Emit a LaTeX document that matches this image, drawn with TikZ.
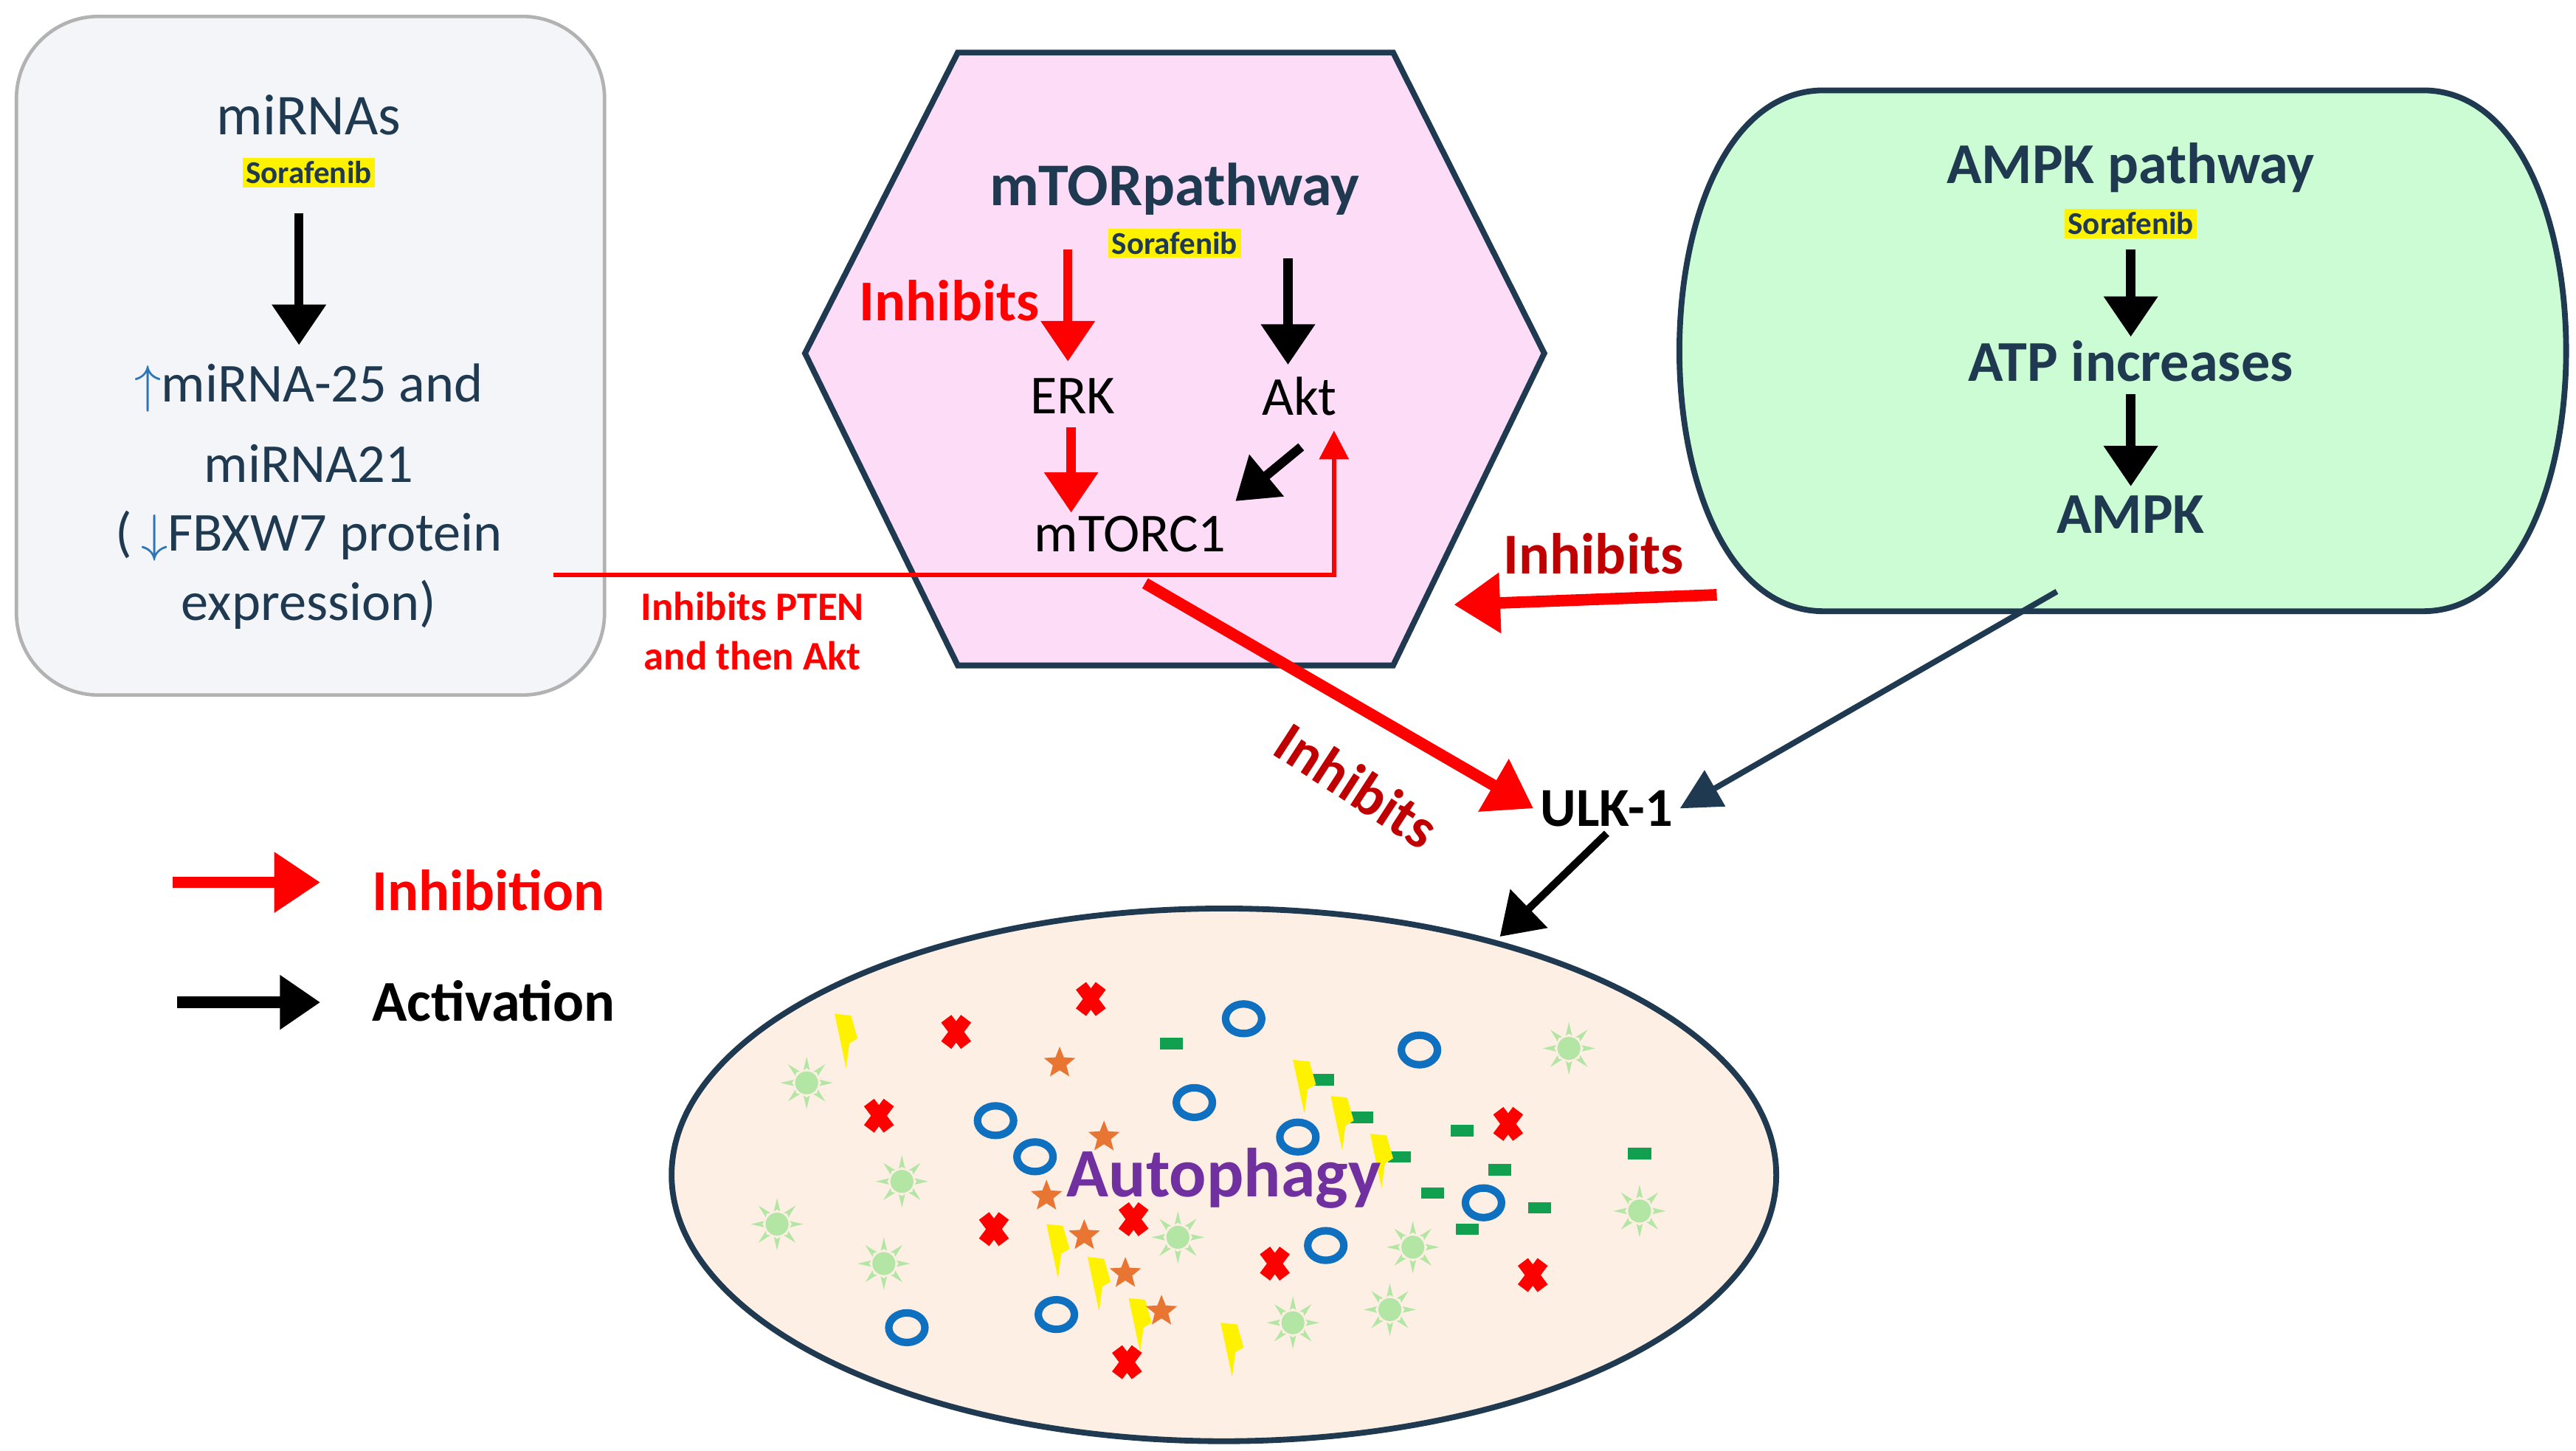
\documentclass[tikz,border=0pt]{standalone}
\usepackage{fontspec}
\setmainfont{Carlito}
\usetikzlibrary{arrows.meta,shapes.geometric,calc}
\definecolor{navy}{HTML}{1F3A50}
\definecolor{dred}{HTML}{C00000}
\definecolor{hexfill}{HTML}{FDDCF8}
\definecolor{grfill}{HTML}{CCFCD4}
\definecolor{boxfill}{HTML}{F3F5F8}
\definecolor{ellfill}{HTML}{FDEFE3}
\definecolor{sun}{HTML}{B3E6A4}
\definecolor{ostar}{HTML}{E87532}
\definecolor{oblue}{HTML}{1070C0}
\definecolor{dgreen}{HTML}{10A050}
\definecolor{tealc}{HTML}{2E75B6}
\definecolor{purp}{HTML}{7030A0}
\tikzset{
 txt/.style={font=\fontsize{9.5}{10}\selectfont, text=navy, inner sep=1pt},
 big/.style={font=\fontsize{10}{11}\selectfont\bfseries, text=navy, inner sep=1pt},
 sora/.style={font=\fontsize{5.5}{6}\selectfont\bfseries, fill=yellow, inner sep=0.6pt, text=navy},
 blk/.style={-{Triangle[length=7pt,width=9pt]}, line width=1.6pt, black},
 redarr/.style={-{Triangle[length=7pt,width=9pt]}, line width=1.6pt, draw=red},
 redthick/.style={-{Triangle[length=8pt,width=10pt]}, line width=2pt, draw=red},
 inh/.style={font=\fontsize{10}{11}\selectfont\bfseries, text=dred, inner sep=1pt},
}
\begin{document}
\begin{tikzpicture}[x=0.01cm,y=-0.01cm]
\useasboundingbox (0,0) rectangle (1568,883);
% left box
\draw[draw=gray!60, fill=boxfill, line width=0.6pt, rounded corners=0.5cm] (10,10) rectangle (368,423);
\node[txt, font=\fontsize{10}{11}\selectfont] (mir) at (188,70) {miRNAs};
\node[sora] (s1) at (188,105) {Sorafenib};
\node[txt] (m25) at (188,236) {\textcolor{tealc}{$\uparrow$}miRNA-25 and};
\node[txt] (m21) at (188,282) {miRNA21};
\node[txt] (fbx) at (188,326) {(\,\textcolor{tealc}{$\downarrow$}FBXW7 protein};
\node[txt] (exp) at (188,368) {expression)};
\coordinate (a1) at (182,130); \coordinate (a2) at (182,210);
\draw[blk] (a1) -- (a2);
% hexagon
\draw[draw=navy, fill=hexfill, line width=1pt] (583,32) -- (848,32) -- (940,215) -- (848,405) -- (583,405) -- (490,215) -- cycle;
\node[big, font=\fontsize{10.5}{11}\selectfont\bfseries] (mtor) at (715,115) {mTORpathway};
\node[sora] (s2) at (715,148) {Sorafenib};
\node[inh, text=red] (inh1) at (578,183) {Inhibits};
\node[txt, text=black] (erk) at (653,241) {ERK};
\node[txt, text=black] (akt) at (791,241) {Akt};
\node[txt, text=black] (mtorc) at (688,325) {mTORC1};
\coordinate (r1) at (650,152); \coordinate (r2) at (650,220);
\draw[redarr] (r1) -- (r2);
\coordinate (b1) at (784,157); \coordinate (b2) at (784,222);
\draw[blk] (b1) -- (b2);
\coordinate (r3) at (652,260); \coordinate (r4) at (652,312);
\draw[redarr] (r3) -- (r4);
\coordinate (b3) at (792,272); \coordinate (b4) at (752,305);
\draw[blk] (b3) -- (b4);
% PTEN line
\coordinate (p1) at (337,350); \coordinate (p2) at (812,350); \coordinate (p3) at (812,262);
\draw[draw=red, line width=0.8pt, -{Triangle[length=5pt,width=5pt]}] (p1) -- (p2) -- (p3);
\node[font=\fontsize{7}{8.5}\selectfont\bfseries, text=red, align=center] (pten) at (458,384) {Inhibits PTEN\\and then Akt};
% green shape
\draw[draw=navy, fill=grfill, line width=1pt] (1110,55) -- (1475,55) .. controls (1591,55) and (1591,372) .. (1475,372) -- (1110,372) .. controls (993,372) and (993,55) .. (1110,55) -- cycle;
\node[big] (ampkp) at (1297,102) {AMPK pathway};
\node[sora] (s3) at (1297,136) {Sorafenib};
\node[big] (atp) at (1297,220) {ATP increases};
\node[big] (ampk) at (1297,313) {AMPK};
\coordinate (g1) at (1297,152); \coordinate (g2) at (1297,205);
\draw[blk] (g1) -- (g2);
\coordinate (g3) at (1297,240); \coordinate (g4) at (1297,296);
\draw[blk] (g3) -- (g4);
% AMPK inhibits mTOR
\coordinate (i1) at (1045,362); \coordinate (i2) at (885,368);
\draw[redthick] (i1) -- (i2);
\node[inh] (inh2) at (970,337) {Inhibits};
% mTORC1 inhibits ULK
\node[font=\fontsize{9.5}{10}\selectfont\bfseries, inner sep=1pt] (ulk) at (978,492) {ULK-1};
\coordinate (i3) at (697,355);
\draw[redthick] (i3) -- (ulk.west);
\node[inh, rotate=-33] (inh3) at (826,478) {Inhibits};
\coordinate (n1) at (1252,360);
\draw[-{Triangle[length=7pt,width=7pt]}, line width=1pt, draw=navy] (n1) -- (ulk.east);
% ellipse
\node[ellipse, draw=navy, line width=1pt, fill=ellfill, minimum width=6.72cm, minimum height=3.24cm, inner sep=0] (cell) at (745,715) {};
\coordinate (cellTop) at (913,570);
\draw[blk, line width=1.3pt] (ulk.south) -- (cellTop);
% scatter
\foreach \x/\y in {491/659,955/638,549/719,473/745,538/769,717/753,860/759,998/737,787/805,846/797}{
  \fill[sun] (\x,\y) circle (7);
  \foreach \a in {0,45,...,315} \fill[sun] ($(\x,\y)+(\a:9)$) -- ($(\x,\y)+(\a+14:8)$) -- ($(\x,\y)+(\a:16)$) -- ($(\x,\y)+(\a-14:8)$) -- cycle;
}
\foreach \x/\y in {713/635,890/688,913/712,998/702,872/726,937/735,893/748,805/657,829/680,852/704}
  \fill[dgreen] (\x-7,\y-3.5) rectangle (\x+7,\y+3.5);
\foreach \x/\y in {757/620,864/639,727/671,606/682,630/704,790/692,903/732,807/758,643/800,552/808}
  \draw[oblue, line width=1.3pt] (\x,\y) ellipse [x radius=11, y radius=9];
\foreach \x/\y in {516/630,795/658,818/680,842/703,645/758,670/778,695/803,751/818}
  \fill[yellow] (\x-8,\y-13) -- (\x+2,\y-12) -- (\x+6,\y+2) -- (\x+1,\y+5) -- (\x-1,\y+20) -- cycle;
\foreach \x/\y in {645/647,672/692,637/728,660/752,685/775,707/798}
  \node[star, star points=5, star point ratio=2.3, fill=ostar, inner sep=0, minimum size=0.2cm] at (\x,\y) {};
\foreach \x/\y in {664/608,582/628,535/679,918/684,605/748,690/742,776/769,933/776,686/829}
  \draw[red, line width=2.2pt] (\x-6,\y-8) -- (\x+6,\y+8) (\x-6,\y+8) -- (\x+6,\y-8);
\node[font=\fontsize{12}{13}\selectfont\bfseries, text=purp, inner sep=1pt] (auto) at (745,717) {Autophagy};
% legend
\coordinate (l1) at (105,537); \coordinate (l2) at (195,537);
\draw[redthick] (l1) -- (l2);
\node[font=\fontsize{10}{11}\selectfont\bfseries, text=red, anchor=west] (linh) at (214,542) {Inhibition};
\coordinate (l3) at (108,610); \coordinate (l4) at (195,610);
\draw[blk, line width=2pt] (l3) -- (l4);
\node[font=\fontsize{10}{11}\selectfont\bfseries, anchor=west] (lact) at (214,609) {Activation};
\end{tikzpicture}
\end{document}
